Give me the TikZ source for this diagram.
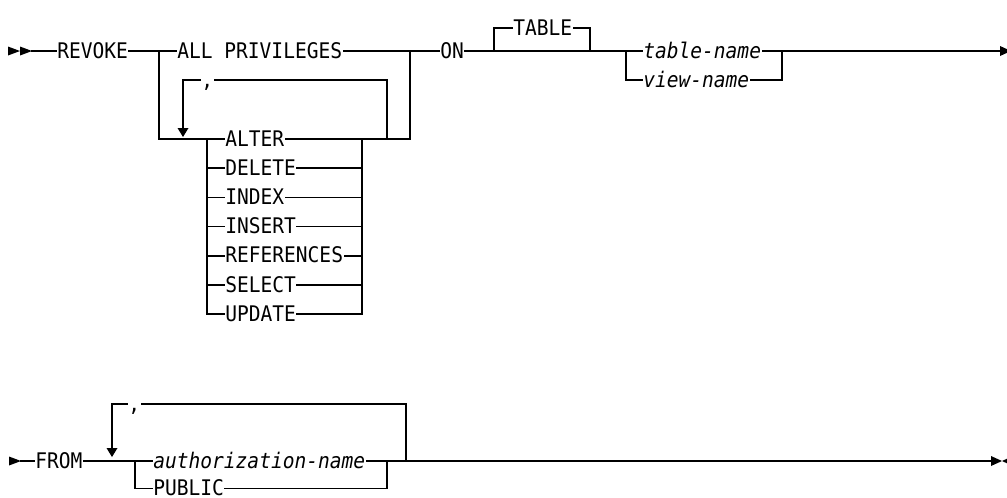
\documentclass[tikz,border=0pt]{standalone}
\usepackage{fontspec}
\newfontfamily\diafont[FakeStretch=0.91]{DejaVu Sans Mono}
\begin{document}
\begin{tikzpicture}[x=1pt,y=-1pt,line width=1.5pt,line cap=rect,
  kw/.style={inner xsep=0.5pt,inner ysep=0pt,anchor=west,text height=14.2pt,text depth=0pt,
    font=\diafont\fontsize{21.5pt}{22pt}\selectfont},
  tip/.style={fill=black,draw=none}]
\useasboundingbox (0,0) rectangle (1007,498);
% ---------------- line 1 ----------------
\fill[tip] (8,46.5) -- (8,55.5) -- (20,51) -- cycle;
\fill[tip] (20,46.5) -- (20,55.5) -- (32,51) -- cycle;
\coordinate (s1) at (32,51);
\node[kw] (revoke) at (56,51) {REVOKE};
\coordinate (j1) at (159,51);
\node[kw] (allp) at (176,51) {ALL PRIVILEGES};
\coordinate (j2) at (410,51);
\node[kw] (on) at (439,51) {ON};
\coordinate (j3) at (494,51);
\coordinate (j3u) at (494,28);
\node[kw] (table) at (512,28) {TABLE};
\coordinate (j4u) at (590,28);
\coordinate (j4) at (590,51);
\coordinate (j5) at (626,51);
\node[kw] (tname) at (642,51) {\itshape table-name};
\coordinate (j6) at (782,51);
\coordinate (j5d) at (626,80);
\node[kw] (vname) at (642,80) {\itshape view-name};
\coordinate (j6d) at (782,80);
\coordinate (e1) at (1001,51);
\draw (s1) -- (revoke) -- (j1) -- (allp) -- (j2) -- (on) -- (j3) -- (j4) -- (j5) -- (tname) -- (j6) -- (e1);
\draw (j3) -- (j3u) -- (table) -- (j4u) -- (j4);
\draw (j5) -- (j5d) -- (vname) -- (j6d) -- (j6);
\fill[tip] (1000,46) -- (1000,56) -- (1011,51) -- cycle;
% privileges block
\coordinate (p0) at (159,139);
\coordinate (cr1) at (362,139);
\coordinate (lr) at (387,139);
\coordinate (j2d) at (410,139);
\node[kw] (alter) at (224,139) {ALTER};
\draw (j1) -- (p0) -- (alter) -- (cr1) -- (lr) -- (j2d) -- (j2);
\foreach \n/\t/\yy in {del/DELETE/168.2, idx/INDEX/197.4, ins/INSERT/226.6, ref/REFERENCES/255.8, sel/SELECT/285, upd/UPDATE/314.2}{
  \coordinate (cl-\n) at (207,\yy);
  \coordinate (cr-\n) at (362,\yy);
  \node[kw] (\n) at (224,\yy) {\t};
  \draw (cl-\n) -- (\n) -- (cr-\n);
}
\coordinate (cl1) at (207,139);
\draw (cl1) -- (cl-upd);
\draw (cr1) -- (cr-upd);
% repetition loop 1
\coordinate (l1a) at (387,80);
\node[kw] (comma1) at (200,80) {,};
\coordinate (l1b) at (183,80);
\coordinate (l1c) at (183,128);
\draw (lr) -- (l1a) -- (comma1) -- (l1b) -- (l1c);
\fill[tip] (177.5,128) -- (188.5,128) -- (183,137) -- cycle;
% ---------------- line 2 ----------------
\fill[tip] (9,456.5) -- (9,465.5) -- (21,461) -- cycle;
\coordinate (s2) at (21,461);
\node[kw] (from) at (34,461) {FROM};
\coordinate (k1) at (135,461);
\node[kw] (auth) at (152,461) {\itshape authorization-name};
\coordinate (k2) at (387,461);
\coordinate (k3) at (406,461);
\coordinate (e2) at (991,461);
\draw (s2) -- (from) -- (k1) -- (auth) -- (k2) -- (k3) -- (e2);
\coordinate (k1d) at (135,488.5);
\node[kw] (public) at (152,488.5) {PUBLIC};
\coordinate (k2d) at (387,488.5);
\draw (k1) -- (k1d) -- (public) -- (k2d) -- (k2);
\coordinate (l2a) at (406,404);
\node[kw] (comma2) at (127,404) {,};
\coordinate (l2b) at (112,404);
\coordinate (l2c) at (112,448);
\draw (k3) -- (l2a) -- (comma2) -- (l2b) -- (l2c);
\fill[tip] (106.5,448) -- (117.5,448) -- (112,457) -- cycle;
\fill[tip] (991,456) -- (991,466) -- (1002,461) -- cycle;
\fill[tip] (1013,456) -- (1013,466) -- (1002,461) -- cycle;
\end{tikzpicture}
\end{document}
